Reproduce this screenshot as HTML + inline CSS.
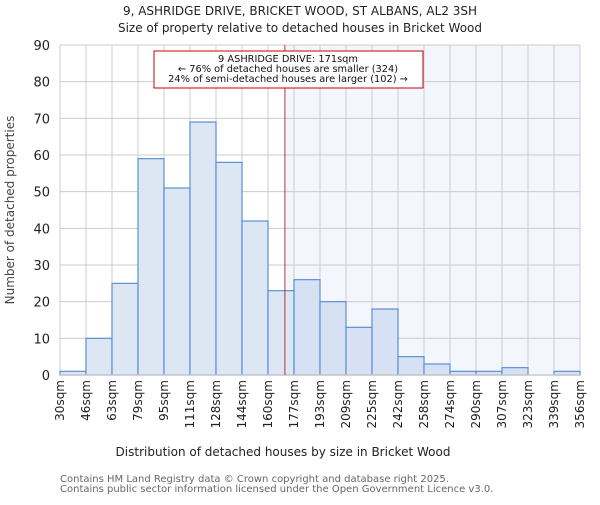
<!DOCTYPE html>
<html><head><meta charset="utf-8"><style>
body{margin:0;background:#fff}
svg text{font-family:"DejaVu Sans","Liberation Sans",sans-serif}
</style></head><body>
<svg id="c" width="600" height="500" xmlns="http://www.w3.org/2000/svg">
<text x="300" y="15" text-anchor="middle" font-size="12" fill="#222">9, ASHRIDGE DRIVE, BRICKET WOOD, ST ALBANS, AL2 3SH</text>
<text x="300" y="32" text-anchor="middle" font-size="12" fill="#222">Size of property relative to detached houses in Bricket Wood</text>
<g id="plot"></g>
<text x="283" y="456" text-anchor="middle" font-size="12" fill="#222">Distribution of detached houses by size in Bricket Wood</text>
<text transform="translate(14,210) rotate(-90)" text-anchor="middle" font-size="12" fill="#444">Number of detached properties</text>
<text x="60" y="482" font-size="10" fill="#666">Contains HM Land Registry data © Crown copyright and database right 2025.</text>
<text x="60" y="492" font-size="10" fill="#666">Contains public sector information licensed under the Open Government Licence v3.0.</text>
</svg>
<script>
const categories=["30sqm","46sqm","63sqm","79sqm","95sqm","111sqm","128sqm","144sqm","160sqm","177sqm","193sqm","209sqm","225sqm","242sqm","258sqm","274sqm","290sqm","307sqm","323sqm","339sqm","356sqm"];
const counts=[1,10,25,59,51,69,58,42,23,26,20,13,18,5,3,1,1,2,0,1];
const yTicks=[0,10,20,30,40,50,60,70,80,90];
const binStart=30, binStep=16.3, propertySize=171;
const L=60,R=580,T=45,B=375,ns="http://www.w3.org/2000/svg";
const nb=counts.length, bw=(R-L)/nb;
const xs=i=>L+i*bw, y=v=>B-(v/90)*(B-T), xv=s=>L+(s-binStart)/binStep*bw;
const g=document.getElementById('plot');
function mk(t,a){const e=document.createElementNS(ns,t);for(const k in a)e.setAttribute(k,a[k]);g.appendChild(e);return e;}
const rx=xv(propertySize);
let e=mk('rect',{x:rx,y:T,width:R-rx,height:B-T,fill:'#f3f6fd'});


for(let i=0;i<=nb;i++){e=mk('line',{x1:xs(i),x2:xs(i),y1:T,y2:B,stroke:'#ccc'});

}
yTicks.forEach(v=>{e=mk('line',{x1:L,x2:R,y1:y(v),y2:y(v),stroke:'#ccc'});


const t=mk('text',{x:L-10,y:y(v)+5,'text-anchor':'end','font-size':13,fill:'#222'});t.textContent=v;

});
counts.forEach((v,i)=>{if(v<=0)return;const r=mk('rect',{x:xs(i),y:y(v),width:bw,height:B-y(v),fill:xs(i)>=rx?'#d6e2f4':'#dde7f4',stroke:'#5b8fd6','stroke-width':1.2});

});
e=mk('line',{x1:L,x2:R,y1:B,y2:B,stroke:'#ccc','stroke-width':1.5});


categories.forEach((c,i)=>{const t=mk('text',{transform:`translate(${xs(i)+4},380) rotate(-90)`,'text-anchor':'end','font-size':12,fill:'#222'});t.textContent=c;

});
e=mk('line',{x1:rx,x2:rx,y1:T,y2:B,stroke:'#b00000','stroke-width':0.8});


e=mk('rect',{x:154,y:51,width:269,height:37,fill:'#fff',stroke:'#cc0000'});


["9 ASHRIDGE DRIVE: 171sqm","← 76% of detached houses are smaller (324)","24% of semi-detached houses are larger (102) →"].forEach((s,i)=>{const t=mk('text',{x:288,y:62+i*10,'text-anchor':'middle','font-size':9.8,fill:'#111'});t.textContent=s;

});
</script>
</body></html>
